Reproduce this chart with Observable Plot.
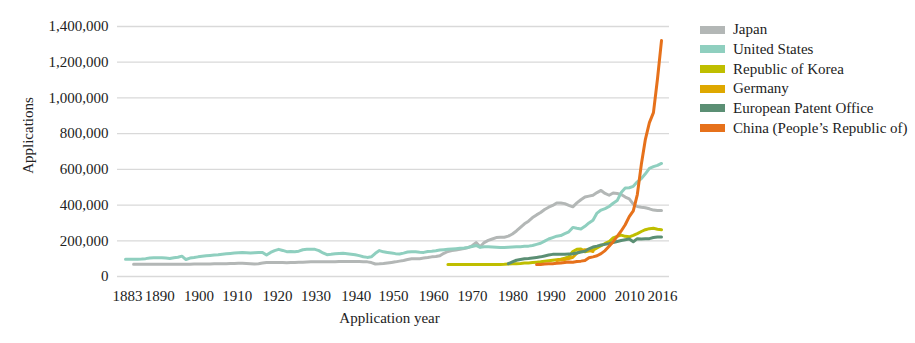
<!DOCTYPE html>
<html><head><meta charset="utf-8">
<script src="https://cdn.jsdelivr.net/npm/d3@7"></script>
<script src="https://cdn.jsdelivr.net/npm/@observablehq/plot@0.6"></script>
<style>
body{margin:0;background:#fff;}
#wrap{position:relative;width:915px;height:343px;font-family:"Liberation Serif",serif;}
#legend{position:absolute;left:700px;top:20px;}
.row{display:flex;align-items:center;height:19.66px;font-size:15px;color:#222;white-space:nowrap;}
.sw{width:25px;height:8px;margin-right:8px;flex:none;}
</style></head><body>
<div id="wrap"><div id="chart"></div><div id="legend"></div></div>
<script>
// Series names and colours (legend order)
const seriesNames = ["Japan","United States","Republic of Korea","Germany","European Patent Office","China (People\u2019s Republic of)"];
const seriesColors = ["#b3b7b6","#8fcfbf","#bfbe00","#dea800","#5b8f74","#e6711b"];

// Values in thousands of applications, one per year from the start year
const usStart = 1883;
const usValues = [97,97,97,97,98,100,104,105,105,105,
 103,101,105,108,114,95,103,106,110,113,
 116,118,120,122,125,127,129,131,133,135,
 133,131,133,135,134,120,135,145,152,146,
 139,140,139,142,150,152,152,152,145,132,
 122,124,127,129,130,128,125,122,117,111,
 107,110,130,145,138,135,132,128,126,131,
 137,139,138,136,135,140,141,144,148,150,
 152,154,156,158,160,163,168,174,163,167,
 166,165,164,163,163,164,165,166,167,169,
 170,174,180,186,198,210,218,226,229,240,
 250,275,270,266,281,300,315,355,372,380,
 392,410,425,470,495,497,505,530,548,575,
 605,615,622,633];

const japanStart = 1885;
const japanValues = [69,69,69,69,69,69,69,69,69,69,
 69,69,69,69,69,70,70,70,70,70,
 71,71,72,72,73,73,74,74,73,72,
 70,72,75,78,78,79,79,78,77,78,
 79,80,80,81,82,82,82,82,82,83,
 83,84,84,84,84,84,84,83,82,78,
 70,71,73,76,79,82,86,90,95,99,
 100,100,103,106,110,112,116,130,140,145,
 148,152,156,162,172,190,167,190,202,210,
 218,220,220,226,238,255,275,295,310,330,
 345,358,375,388,398,412,412,408,398,390,
 412,430,445,450,455,470,482,465,455,468,
 465,459,445,435,405,392,388,385,379,372,
 369,369];

const koreaStart = 1963;
const koreaValues = [67,67,67,67,67,67,67,67,67,67,
 67,67,67,67,68,70,71,72,73,75,
 76,78,80,82,85,88,91,94,97,102,
 110,140,152,154,139,143,148,160,172,185,
 196,216,225,232,225,222,230,240,252,262,
 268,270,265,262];

const germanyStart = 1990;
const germanyValues = [90,92,95,100,108,130,145,150,148,140];

const epoStart = 1978;
const epoValues = [72,82,91,95,99,101,104,107,110,115,
 120,124,124,124,124,126,127,132,137,141,
 155,165,170,176,180,184,190,196,202,206,
 210,195,212,210,211,212,218,221,221];

const chinaStart = 1985;
const chinaValues = [67,67,70,72,72,74,76,79,81,80,
 84,86,90,105,110,116,128,145,170,195,
 225,255,290,335,368,459,628,768,862,918,
 1106,1321];

const yTicks = [0,200000,400000,600000,800000,1000000,1200000,1400000];
const xTickGroups = [
  {ticks:[1883], dx:2},
  {ticks:[1890], dx:6},
  {ticks:[1900], dx:5},
  {ticks:[1910,1920], dx:3},
  {ticks:[1930,1940], dx:1},
  {ticks:[1950,1960], dx:-2},
  {ticks:[1970,1980], dx:-3.5},
  {ticks:[1990,2000], dx:-6},
  {ticks:[2010], dx:-7.5},
  {ticks:[2016], dx:1}
];

const rows = [];
function addSeries(name, start, values){ values.forEach((v,i)=>rows.push({name, year:start+i, value:v*1000})); }
addSeries(seriesNames[0], japanStart, japanValues);
addSeries(seriesNames[1], usStart, usValues);
addSeries(seriesNames[2], koreaStart, koreaValues);
addSeries(seriesNames[3], germanyStart, germanyValues);
addSeries(seriesNames[4], epoStart, epoValues);
addSeries(seriesNames[5], chinaStart, chinaValues);

const chart = Plot.plot({
  width:915, height:343,
  marginLeft:117, marginRight:246, marginTop:26, marginBottom:67,
  style:{fontFamily:"'Liberation Serif', serif", fontSize:"15px", color:"#222", background:"white"},
  x:{domain:[1883,2016], insetLeft:8, insetRight:8},
  y:{domain:[0,1400000]},
  color:{domain:seriesNames, range:seriesColors},
  marks:[
    Plot.gridY(yTicks, {stroke:"#d9d9d9", strokeOpacity:1, strokeWidth:1.3}),
    Plot.axisY(yTicks, {tickSize:0, tickPadding:9, tickFormat:d3.format(","), label:null, fontSize:15}),
    ...xTickGroups.map(g => Plot.axisX(g.ticks, {tickSize:0, tickPadding:14, tickFormat:d=>String(d), label:null, dx:g.dx, fontSize:15})),
    Plot.lineY(rows, {x:"year", y:"value", z:"name", stroke:"name", strokeWidth:3, strokeLinejoin:"round", strokeLinecap:"round"}),
    Plot.text(["Applications"], {text:d=>d, frameAnchor:"left", textAnchor:"middle", lineAnchor:"middle", rotate:-90, dx:-89, dy:-16, fontSize:15, fill:"#222"}),
    Plot.text(["Application year"], {text:d=>d, frameAnchor:"bottom", textAnchor:"middle", lineAnchor:"middle", dx:-4, dy:42, fontSize:15, fill:"#222"})
  ]
});
document.getElementById("chart").appendChild(chart);

const legend = document.getElementById("legend");
seriesNames.forEach((n,i)=>{
  const r = document.createElement("div"); r.className="row";
  const s = document.createElement("span"); s.className="sw"; s.style.background=seriesColors[i];
  const t = document.createElement("span"); t.textContent=n;
  r.appendChild(s); r.appendChild(t); legend.appendChild(r);
});
</script>
</body></html>
